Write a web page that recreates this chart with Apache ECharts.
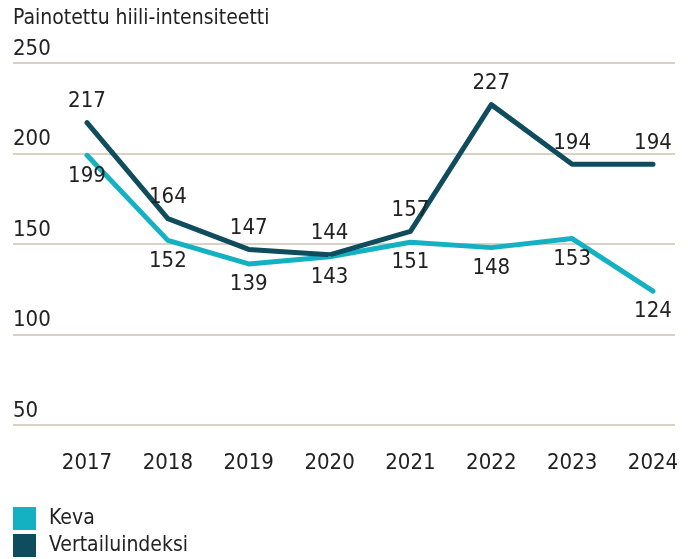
<!DOCTYPE html>
<html>
<head>
<meta charset="utf-8">
<script src="https://cdn.jsdelivr.net/npm/echarts@6/dist/echarts.min.js"></script>
<style>
  html, body { margin: 0; padding: 0; background: #fff; }
  #chart { width: 688px; height: 559px; }
</style>
</head>
<body>
<div id="chart"></div>
<script>
// vuodet ja arvot
const years = ['2017', '2018', '2019', '2020', '2021', '2022', '2023', '2024'];
const keva = [199, 152, 139, 143, 151, 148, 153, 124];
const vertailu = [217, 164, 147, 144, 157, 227, 194, 194];
const yTicks = [50, 100, 150, 200, 250];

const FONT = '"Liberation Sans Narrow", "DejaVu Sans Condensed", sans-serif';
const TXT = '#222222';
const C_KEVA = '#14b1c2';
const C_VERT = '#0f4c5e';

let myChart = echarts.init(document.getElementById('chart'));
let option = {
  animation: false,
  textStyle: { fontFamily: FONT, color: TXT },
  title: {
    text: 'Painotettu hiili-intensiteetti',
    left: 13,
    top: 8,
    padding: 0,
    textStyle: { fontFamily: FONT, fontSize: 21, fontWeight: 'normal', color: TXT }
  },
  legend: {
    orient: 'vertical',
    left: 13,
    top: 507,
    padding: 0,
    itemWidth: 23,
    itemHeight: 23,
    itemGap: 4,
    icon: 'rect',
    itemStyle: { opacity: 1 },
    textStyle: { fontFamily: FONT, fontSize: 21, color: TXT, padding: [0, 0, 0, 8] },
    data: ['Keva', 'Vertailuindeksi']
  },
  grid: [
    // taustan apuviivat
    { left: 13, right: 13, top: 63, bottom: 134 },
    // datan piirtoalue
    { left: 87, right: 35, top: 63, bottom: 134 }
  ],
  xAxis: [
    { gridIndex: 0, type: 'value', show: false, min: 0, max: 1 },
    {
      gridIndex: 1,
      type: 'category',
      boundaryGap: false,
      data: years,
      axisLine: { show: false },
      axisTick: { show: false },
      axisLabel: { fontFamily: FONT, fontSize: 22, color: TXT, margin: 27 }
    }
  ],
  yAxis: [
    {
      gridIndex: 0,
      type: 'value',
      min: yTicks[0],
      max: yTicks[yTicks.length - 1],
      interval: 50,
      axisLine: { show: false },
      axisTick: { show: false },
      splitLine: { lineStyle: { color: '#d8d2c6', width: 2 } },
      axisLabel: {
        inside: true,
        margin: 0,
        align: 'left',
        verticalAlign: 'bottom',
        fontFamily: FONT,
        fontSize: 22,
        color: TXT,
        padding: [0, 0, 3, 0]
      }
    },
    {
      gridIndex: 1,
      type: 'value',
      min: yTicks[0],
      max: yTicks[yTicks.length - 1],
      show: false
    }
  ],
  series: [
    {
      name: 'Keva',
      type: 'line',
      xAxisIndex: 1,
      yAxisIndex: 1,
      data: keva,
      symbol: 'circle',
      symbolSize: 3,
      showSymbol: true,
      color: C_KEVA,
      lineStyle: { width: 5, cap: 'round', join: 'round', color: C_KEVA },
      label: { show: true, position: 'bottom', distance: 8, fontFamily: FONT, fontSize: 22, color: TXT }
    },
    {
      name: 'Vertailuindeksi',
      type: 'line',
      xAxisIndex: 1,
      yAxisIndex: 1,
      data: vertailu,
      symbol: 'circle',
      symbolSize: 3,
      showSymbol: true,
      color: C_VERT,
      lineStyle: { width: 5, cap: 'round', join: 'round', color: C_VERT },
      label: { show: true, position: 'top', distance: 9, fontFamily: FONT, fontSize: 22, color: TXT }
    }
  ]
};
myChart.setOption(option);
</script>
</body>
</html>
